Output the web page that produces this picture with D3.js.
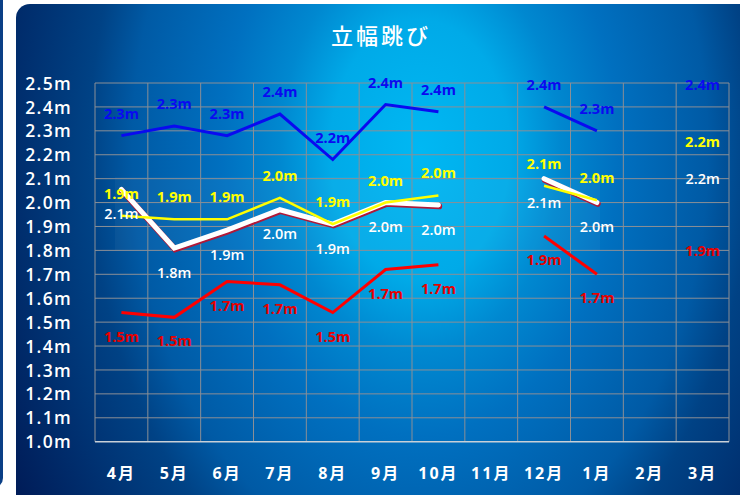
<!DOCTYPE html>
<html><head><meta charset="utf-8">
<script src="https://cdn.jsdelivr.net/npm/d3@7"></script>
<style>
html,body{margin:0;padding:0;background:#fff;}
svg{display:block;}
text{font-family:"Open Sans","Noto Sans CJK JP",sans-serif;}
</style></head>
<body>
<svg id="chart" width="740" height="495"></svg>
<script>
const months = ["4月","5月","6月","7月","8月","9月","10月","11月","12月","1月","2月","3月"];
const yTicks = [1.0,1.1,1.2,1.3,1.4,1.5,1.6,1.7,1.8,1.9,2.0,2.1,2.2,2.3,2.4,2.5];
const blueVals   = [2.28,2.32,2.28,2.37,2.18,2.41,2.38,null,2.40,2.30,null,2.40];
const yellowVals = [1.945,1.93,1.93,2.02,1.91,2.00,2.03,null,2.07,2.01,null,2.16];
const whiteVals  = [2.055,1.81,1.885,1.97,1.91,2.00,1.99,null,2.10,2.00,null,2.20];
const redVals    = [1.54,1.52,1.67,1.656,1.54,1.72,1.74,null,1.86,1.70,null,1.90];
const title = "立幅跳び";

const svg = d3.select("#chart");
const defs = svg.append("defs");
const grad = defs.append("radialGradient").attr("id","bg")
  .attr("gradientUnits","userSpaceOnUse").attr("cx",420).attr("cy",150).attr("r",468)
  .attr("gradientTransform","translate(420,150) scale(1,1.444) translate(-420,-150)");
[[0,"#00b8f3"],[0.25,"#00aae8"],[0.39,"#0088d0"],[0.55,"#0070c0"],[0.8,"#005aa5"],[0.92,"#004285"],[1.1,"#003070"],[1.3,"#001c58"]]
  .forEach(([o,c])=>grad.append("stop").attr("offset",o/1.3).attr("stop-color",c));

// background pieces
svg.append("rect").attr("x",-20).attr("y",-10).attr("width",23).attr("height",498).attr("rx",10).attr("fill","#0a3f86");
svg.append("rect").attr("x",16).attr("y",4).attr("width",740).attr("height",520).attr("rx",14).attr("fill","url(#bg)");

const L=95, R=729, T=83, B=441.7;
const x = d3.scaleBand().domain(months).range([L,R]);
const y = d3.scaleLinear().domain([1.0,2.5]).range([B,T]);
const cx = m => x(m) + x.bandwidth()/2;

// subtle translucent box
svg.append("rect").attr("x",115).attr("y",177).attr("width",485).attr("height",74)
  .attr("fill","#ffffff").attr("opacity",0.035);

// grid
const grid = svg.append("g");
yTicks.forEach(v=>{
  if (Math.abs(v-1.0)<1e-9) return;
  grid.append("line").attr("x1",L).attr("x2",R).attr("y1",y(v)).attr("y2",y(v))
    .attr("stroke","#8a8f96").attr("stroke-width",1);
});
months.concat(["end"]).forEach((m,i)=>{
  const xx = m==="end" ? R : x(m);
  grid.append("line").attr("x1",xx).attr("x2",xx).attr("y1",T).attr("y2",B)
    .attr("stroke","#8a8f96").attr("stroke-width",1);
});
grid.append("line").attr("x1",L).attr("x2",R).attr("y1",B).attr("y2",B)
  .attr("stroke","#c8d0d8").attr("stroke-width",1.5);

// y axis labels
const yAxis = d3.axisLeft(y).tickValues(yTicks).tickFormat(d=>d3.format(".1f")(d)+"m").tickSize(0).tickPadding(0);
const ya = svg.append("g").attr("transform","translate(72,0)").call(yAxis);
ya.select(".domain").remove();
ya.selectAll("text").attr("fill","#fff").attr("font-size",17.5).attr("font-weight",600)
  .attr("letter-spacing","1.3px").attr("dy","0.35em");

// x axis labels
const xAxis = d3.axisBottom(x).tickSize(0).tickPadding(0);
const xa = svg.append("g").attr("transform","translate(0,473)").call(xAxis);
xa.select(".domain").remove();
xa.selectAll("text").attr("fill","#fff").attr("font-size",16).attr("font-weight",700)
  .attr("letter-spacing","2px").attr("dy","0.35em");

// title
svg.append("text").attr("x",381).attr("y",36).attr("text-anchor","middle").attr("dy","0.35em")
  .attr("fill","#fff").attr("font-size",22).attr("font-weight",500).attr("letter-spacing","3px")
  .attr("font-family","Noto Sans CJK JP").text(title);

// split into runs of consecutive defined points
function runs(vals){
  const out=[]; let cur=[];
  vals.forEach((v,i)=>{
    if(v==null){ if(cur.length) out.push(cur); cur=[]; }
    else cur.push([months[i],v]);
  });
  if(cur.length) out.push(cur);
  return out.filter(r=>r.length>1);
}
const line = d3.line().x(d=>cx(d[0])).y(d=>y(d[1]));

function drawSeries(vals,color,width,shadow){
  runs(vals).forEach(r=>{
    if(shadow){
      svg.append("path").attr("d",line(r)).attr("fill","none").attr("stroke","#b01838")
        .attr("stroke-width",width+1).attr("stroke-linecap","round").attr("stroke-linejoin","miter")
        .attr("transform","translate(0.8,1.3)");
    }
    svg.append("path").attr("d",line(r)).attr("fill","none").attr("stroke",color)
      .attr("stroke-width",width).attr("stroke-linecap",shadow?"round":"butt").attr("stroke-linejoin","miter");
  });
}
drawSeries(redVals,"#ff0000",3,false);
drawSeries(blueVals,"#0a0af0",3,false);
drawSeries(whiteVals,"#ffffff",5,true);
drawSeries(yellowVals,"#ffff00",2.5,false);

function labels(vals,color,dy,weight){
  vals.forEach((v,i)=>{
    if(v==null) return;
    svg.append("text").attr("x",cx(months[i])).attr("y",y(v)+dy).attr("dy","0.35em")
      .attr("text-anchor","middle").attr("fill",color).attr("font-size",14.5)
      .attr("font-weight",weight).text(d3.format(".1f")(v)+"m");
  });
}
labels(blueVals,"#0a0af0",-22,700);
labels(yellowVals,"#ffff00",-22,700);
labels(whiteVals,"#ffffff",24.5,600);
labels(redVals,"#e80000",24,700);
</script>
</body></html>
